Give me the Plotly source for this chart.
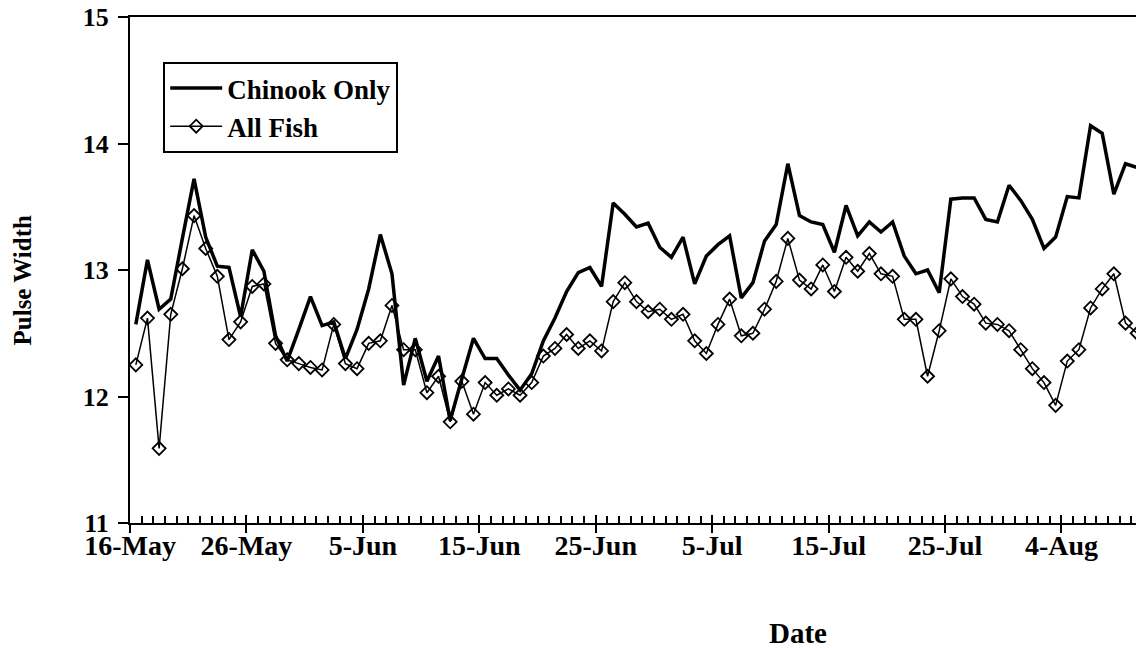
import pandas as pd
import plotly.graph_objects as go

# Daily pulse width, one value per day starting 16-May
start_date = "2001-05-16"

chinook_only = [
    12.57, 13.08, 12.69, 12.77, 13.25, 13.72, 13.26, 13.03, 13.02, 12.63,
    13.16, 12.99, 12.48, 12.28, 12.53, 12.79, 12.56, 12.59, 12.30, 12.53,
    12.85, 13.28, 12.97, 12.09, 12.46, 12.12, 12.32, 11.81, 12.14, 12.46,
    12.30, 12.30, 12.17, 12.05, 12.18, 12.44, 12.62, 12.83, 12.98, 13.02,
    12.87, 13.53, 13.44, 13.34, 13.37, 13.18, 13.10, 13.26, 12.89, 13.11,
    13.20, 13.27, 12.78, 12.90, 13.23, 13.36, 13.84, 13.43, 13.38, 13.36,
    13.14, 13.51, 13.27, 13.38, 13.30, 13.38, 13.11, 12.97, 13.00, 12.82,
    13.56, 13.57, 13.57, 13.40, 13.38, 13.67, 13.55, 13.40, 13.17, 13.26,
    13.58, 13.57, 14.14, 14.08, 13.60, 13.84, 13.81,
]

all_fish = [
    12.25, 12.62, 11.59, 12.65, 13.01, 13.43, 13.17, 12.95, 12.45, 12.59,
    12.87, 12.89, 12.42, 12.29, 12.26, 12.23, 12.21, 12.57, 12.26, 12.22,
    12.42, 12.44, 12.72, 12.37, 12.37, 12.03, 12.16, 11.80, 12.12, 11.86,
    12.11, 12.01, 12.06, 12.01, 12.11, 12.32, 12.38, 12.49, 12.38, 12.44,
    12.36, 12.75, 12.90, 12.75, 12.67, 12.69, 12.61, 12.65, 12.44, 12.34,
    12.57, 12.77, 12.48, 12.50, 12.69, 12.91, 13.25, 12.92, 12.85, 13.04,
    12.83, 13.10, 12.99, 13.13, 12.97, 12.95, 12.61, 12.61, 12.16, 12.52,
    12.93, 12.79, 12.73, 12.58, 12.57, 12.52, 12.37, 12.22, 12.11, 11.93,
    12.28, 12.37, 12.70, 12.85, 12.97, 12.58, 12.50,
]

tick_dates = [
    "2001-05-16", "2001-05-26", "2001-06-05", "2001-06-15", "2001-06-25",
    "2001-07-05", "2001-07-15", "2001-07-25", "2001-08-04",
]
tick_labels = [
    "16-May", "26-May", "5-Jun", "15-Jun", "25-Jun",
    "5-Jul", "15-Jul", "25-Jul", "4-Aug",
]

# points sit in the middle of each day (excel "between tick marks")
dates = pd.date_range(start_date, periods=len(chinook_only), freq="D")
dates = dates + pd.Timedelta(hours=12)
x_range = ["2001-05-16", "2001-08-10 09:40"]

serif = "Liberation Serif"

fig = go.Figure()
fig.add_trace(
    go.Scatter(
        x=dates,
        y=chinook_only,
        name="Chinook Only",
        mode="lines",
        line=dict(color="black", width=3.5),
    )
)
fig.add_trace(
    go.Scatter(
        x=dates,
        y=all_fish,
        name="All Fish",
        mode="lines+markers",
        line=dict(color="black", width=1.5),
        marker=dict(
            symbol="diamond-open",
            size=10,
            color="black",
            line=dict(width=1.8),
        ),
    )
)

# general axis style
axes_args = dict(
    showgrid=False,
    zeroline=False,
    automargin=False,
    linecolor="black",
    linewidth=2,
    tickcolor="black",
    tickwidth=2,
)

# major ticks drawn inside here, the outside half comes from xaxis2
fig.update_xaxes(
    **axes_args,
    type="date",
    range=x_range,
    showline=True,
    mirror=True,
    ticks="inside",
    ticklen=8,
    tickmode="array",
    tickvals=tick_dates,
    ticktext=tick_labels,
    tickfont=dict(size=28),
    ticklabelstandoff=-4,
    minor=dict(
        ticks="inside",
        ticklen=7,
        tickwidth=1.5,
        tickcolor="black",
        dtick=86400000,
        tick0=start_date,
    ),
)

# second axis only to make the major ticks cross the axis line
fig.update_layout(
    xaxis2=dict(
        overlaying="x",
        matches="x",
        type="date",
        side="bottom",
        anchor="y",
        automargin=False,
        showgrid=False,
        zeroline=False,
        showline=True,
        mirror=True,
        linecolor="black",
        linewidth=2,
        showticklabels=False,
        ticks="outside",
        ticklen=8,
        tickwidth=2,
        tickcolor="black",
        tickmode="array",
        tickvals=tick_dates,
    )
)
fig.add_trace(
    go.Scatter(
        x=x_range, y=[None, None], xaxis="x2", showlegend=False,
        hoverinfo="skip",
    )
)

fig.update_yaxes(
    **axes_args,
    range=[11, 15],
    showline=True,
    ticks="outside",
    ticklen=10,
    dtick=1,
    tickfont=dict(size=26),
    ticklabelstandoff=4,
    ticklabeloverflow="allow",
)

# axis titles as annotations so they land where the original has them
fig.add_annotation(
    text="Date", xref="paper", yref="paper", x=0.664, y=-0.217,
    showarrow=False, font=dict(size=29), xanchor="center", yanchor="middle",
)
fig.add_annotation(
    text="Pulse Width", xref="paper", yref="paper", x=-0.107, y=0.48,
    textangle=-90, showarrow=False, font=dict(size=25),
    xanchor="center", yanchor="middle",
)

fig.update_layout(
    width=1138,
    height=649,
    margin=dict(l=130, r=2, t=17, b=126),
    font=dict(family=serif, color="black", weight="bold"),
    plot_bgcolor="white",
    paper_bgcolor="white",
    showlegend=True,
    legend=dict(
        x=0.033,
        y=0.911,
        xanchor="left",
        yanchor="top",
        bgcolor="white",
        bordercolor="black",
        borderwidth=2,
        font=dict(size=27),
        itemwidth=52,
        tracegroupgap=0,
    ),
)

# drop the default page margin so the figure sits at the window's corner
fig.write_html(
    "out.html",
    config={"displayModeBar": False},
    post_script="document.body.style.margin = '0';",
)
